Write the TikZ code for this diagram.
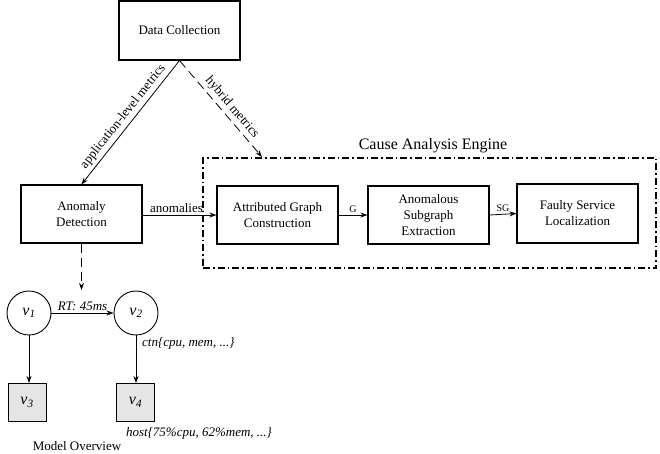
\documentclass[tikz,border=0pt]{standalone}
\usepackage{fontspec}
\setmainfont{Liberation Serif}
\usetikzlibrary{arrows.meta}
\begin{document}
\begin{tikzpicture}[x=1pt,y=-1pt,
  box/.style={draw, line width=1.1pt, align=center, inner sep=0pt, font=\fontsize{13}{16}\selectfont},
  arr/.style={-{Stealth[length=7pt,width=5pt]}, line width=0.8pt},
  rarr/.style={{Stealth[length=7pt,width=5pt]}-, line width=0.8pt},
  dasharr/.style={arr, dash pattern=on 9pt off 5pt},
  lbl/.style={font=\fontsize{13}{15}\selectfont, inner sep=2pt},
  ilbl/.style={font=\fontsize{13}{15}\selectfont\itshape, inner sep=2pt},
  slbl/.style={font=\fontsize{10}{12}\selectfont, inner sep=2pt},
  vnode/.style={draw, circle, line width=0.9pt, minimum size=44pt, inner sep=0pt, font=\fontsize{16}{18}\selectfont\itshape},
  vsq/.style={draw, line width=1pt, fill=gray!20, minimum size=38pt, inner sep=0pt, font=\fontsize{16}{18}\selectfont\itshape},
  frame/.style={draw, line width=1.1pt, dash pattern=on 7pt off 3pt on 1.5pt off 3pt, inner sep=0pt}
]
\useasboundingbox (0,0) rectangle (660,453);

% top boxes
\node[box, minimum width=121pt, minimum height=59pt] (dc) at (179.5,30.5) {Data Collection};
\node[box, minimum width=121pt, minimum height=58pt] (ad) at (81.5,214) {Anomaly\\Detection};

% cause analysis engine frame
\node[frame, minimum width=453pt, minimum height=110pt] (cae) at (429.5,213) {};
\node[font=\fontsize{16}{18}\selectfont] (caet) at (433,146) {Cause Analysis Engine};

\node[box, minimum width=121pt, minimum height=58pt] (agc) at (277.5,215) {Attributed Graph\\Construction};
\node[box, minimum width=121pt, minimum height=58pt] (ase) at (428.5,215) {Anomalous\\Subgraph\\Extraction};
\node[box, minimum width=121pt, minimum height=59pt] (fsl) at (577.5,213.5) {Faulty Service\\Localization};

% connectors
\coordinate (hm) at (262,157);
\coordinate (mo) at (81.5,290);
\draw[rarr] (ad.north) -- node[lbl, midway, sloped, above, inner sep=3pt] {application-level metrics} (dc.south);
\draw[dasharr] (dc.south) -- node[lbl, pos=0.55, sloped, above, inner sep=3pt] {hybrid metrics} (hm);
\draw[arr] (ad.east |- agc.west) -- node[lbl, midway, above, xshift=-3pt] {anomalies} (agc.west);
\draw[arr] (agc.east) -- node[slbl, midway, above] {G} (ase.west);
\draw[arr] (ase.east) -- node[slbl, midway, above] {SG} (fsl.west);
\draw[dasharr] (ad.south) -- (mo);

% model overview
\node[vnode] (v1) at (29,313) {v\textsubscript{1}};
\node[vnode] (v2) at (136,313) {v\textsubscript{2}};
\node[vsq] (v3) at (27,402.5) {v\textsubscript{3}};
\node[vsq] (v4) at (135.5,402.5) {v\textsubscript{4}};
\draw[arr] (v1) -- node[ilbl, midway, above] {RT: 45ms} (v2);
\draw[arr] (v1.south) -- (v1.south |- v3.north);
\draw[arr] (v2.south) -- (v2.south |- v4.north);
\node[ilbl, anchor=west] (ctn) at (140,343) {ctn\{cpu, mem, ...\}};
\node[ilbl] (host) at (199,433) {host\{75\%cpu, 62\%mem, ...\}};
\node[lbl] (mov) at (77,446) {Model Overview};
\end{tikzpicture}
\end{document}
